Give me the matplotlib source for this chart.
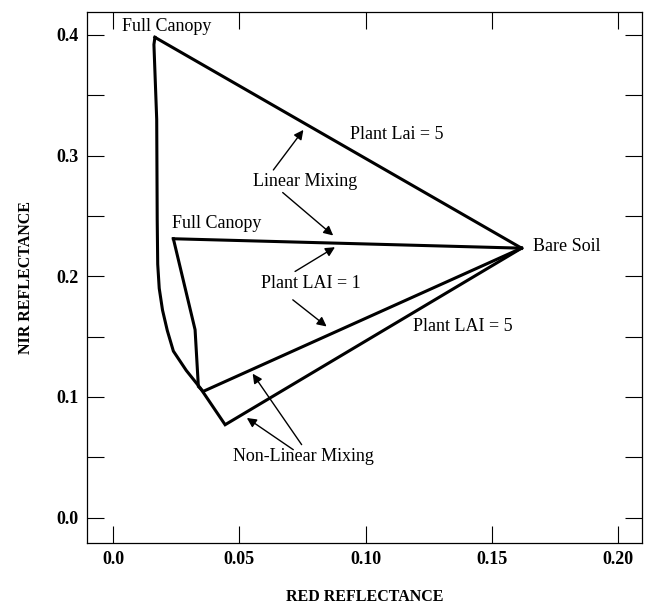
import numpy as np
import matplotlib
matplotlib.use('Agg')
import matplotlib.pyplot as plt

## plt config
plt.rcParams['font.family'] = ['Liberation Serif', 'DejaVu Serif']

## data
bare_soil = (0.1618, 0.2233)

# Plant LAI = 5: full canopy down to the soil (non-linear edge)
lai5_red = [0.0166, 0.0162, 0.0173, 0.0175, 0.0177, 0.0183, 0.0196, 0.0215,
            0.0239, 0.0290, 0.0345, 0.0444]
lai5_nir = [0.398, 0.392, 0.330, 0.247, 0.210, 0.190, 0.172, 0.155,
            0.138, 0.122, 0.1076, 0.077]

# Plant LAI = 1
lai1_red = [0.0239, 0.0325, 0.0338, 0.0357]
lai1_nir = [0.2311, 0.1557, 0.1087, 0.1046]

# labels: text, x, y, ha
labels = [
    ('Full Canopy', 0.0213, 0.4066, 'center'),
    ('Full Canopy', 0.0410, 0.2440, 'center'),
    ('Linear Mixing', 0.0759, 0.2783, 'center'),
    ('Plant Lai = 5', 0.1125, 0.3172, 'center'),
    ('Bare Soil', 0.1663, 0.2247, 'left'),
    ('Plant LAI = 1', 0.0785, 0.1944, 'center'),
    ('Plant LAI = 5', 0.1385, 0.1584, 'center'),
    ('Non-Linear Mixing', 0.0756, 0.0505, 'center'),
]

# arrows: tail -> head
arrows = [
    ((0.0635, 0.2881), (0.0754, 0.3213)),
    ((0.0672, 0.2694), (0.0872, 0.2338)),
    ((0.0721, 0.2040), (0.0879, 0.2241)),
    ((0.0712, 0.1805), (0.0846, 0.1584)),
    ((0.0747, 0.0605), (0.0553, 0.1193)),
    ((0.0714, 0.0563), (0.0530, 0.0826)),
]

xticks = [0.0, 0.05, 0.10, 0.15, 0.20]
xticklabels = ['0.0', '0.05', '0.10', '0.15', '0.20']
yticks = [0.0, 0.1, 0.2, 0.3, 0.4]
yticklabels = ['0.0', '0.1', '0.2', '0.3', '0.4']

## visualization
fig = plt.figure(figsize=(6.46, 6.08), dpi=100)
ax = fig.add_axes([0.1347, 0.1069, 0.8591, 0.8734])

lw = 2.2
# outer (LAI = 5) envelope
ax.plot([lai5_red[0], bare_soil[0]], [lai5_nir[0], bare_soil[1]], color='black', lw=lw)
ax.plot(lai5_red + [bare_soil[0]], lai5_nir + [bare_soil[1]], color='black', lw=lw,
        solid_joinstyle='miter')
# inner (LAI = 1) triangle
ax.plot([lai1_red[0], bare_soil[0]], [lai1_nir[0], bare_soil[1]], color='black', lw=lw)
ax.plot(lai1_red + [bare_soil[0]], lai1_nir + [bare_soil[1]], color='black', lw=lw,
        solid_joinstyle='miter')

for txt, x, y, ha in labels:
    ax.text(x, y, txt, ha=ha, va='center', fontsize=13)

for (x0, y0), (x1, y1) in arrows:
    ax.annotate('', xy=(x1, y1), xytext=(x0, y0),
                arrowprops=dict(arrowstyle='-|>', color='black', lw=1.0,
                                mutation_scale=14, shrinkA=0, shrinkB=0))

ax.set_xlim(-0.0103, 0.2095)
ax.set_ylim(-0.021, 0.419)
ax.set_xticks(xticks)
ax.set_xticklabels(xticklabels)
ax.set_yticks(yticks)
ax.set_yticklabels(yticklabels)
ax.set_yticks([0.05, 0.15, 0.25, 0.35], minor=True)
ax.tick_params(which='both', direction='in', length=12, width=0.8,
               top=True, right=True, labelsize=13, pad=6)
for lab in ax.get_xticklabels() + ax.get_yticklabels():
    lab.set_fontweight('bold')
for s in ax.spines.values():
    s.set_linewidth(0.9)

ax.set_xlabel('RED REFLECTANCE', fontsize=11.5, fontweight='bold', labelpad=15)
ax.set_ylabel('NIR REFLECTANCE', fontsize=11.5, fontweight='bold', labelpad=16)

plt.savefig('out.png', dpi=100)
